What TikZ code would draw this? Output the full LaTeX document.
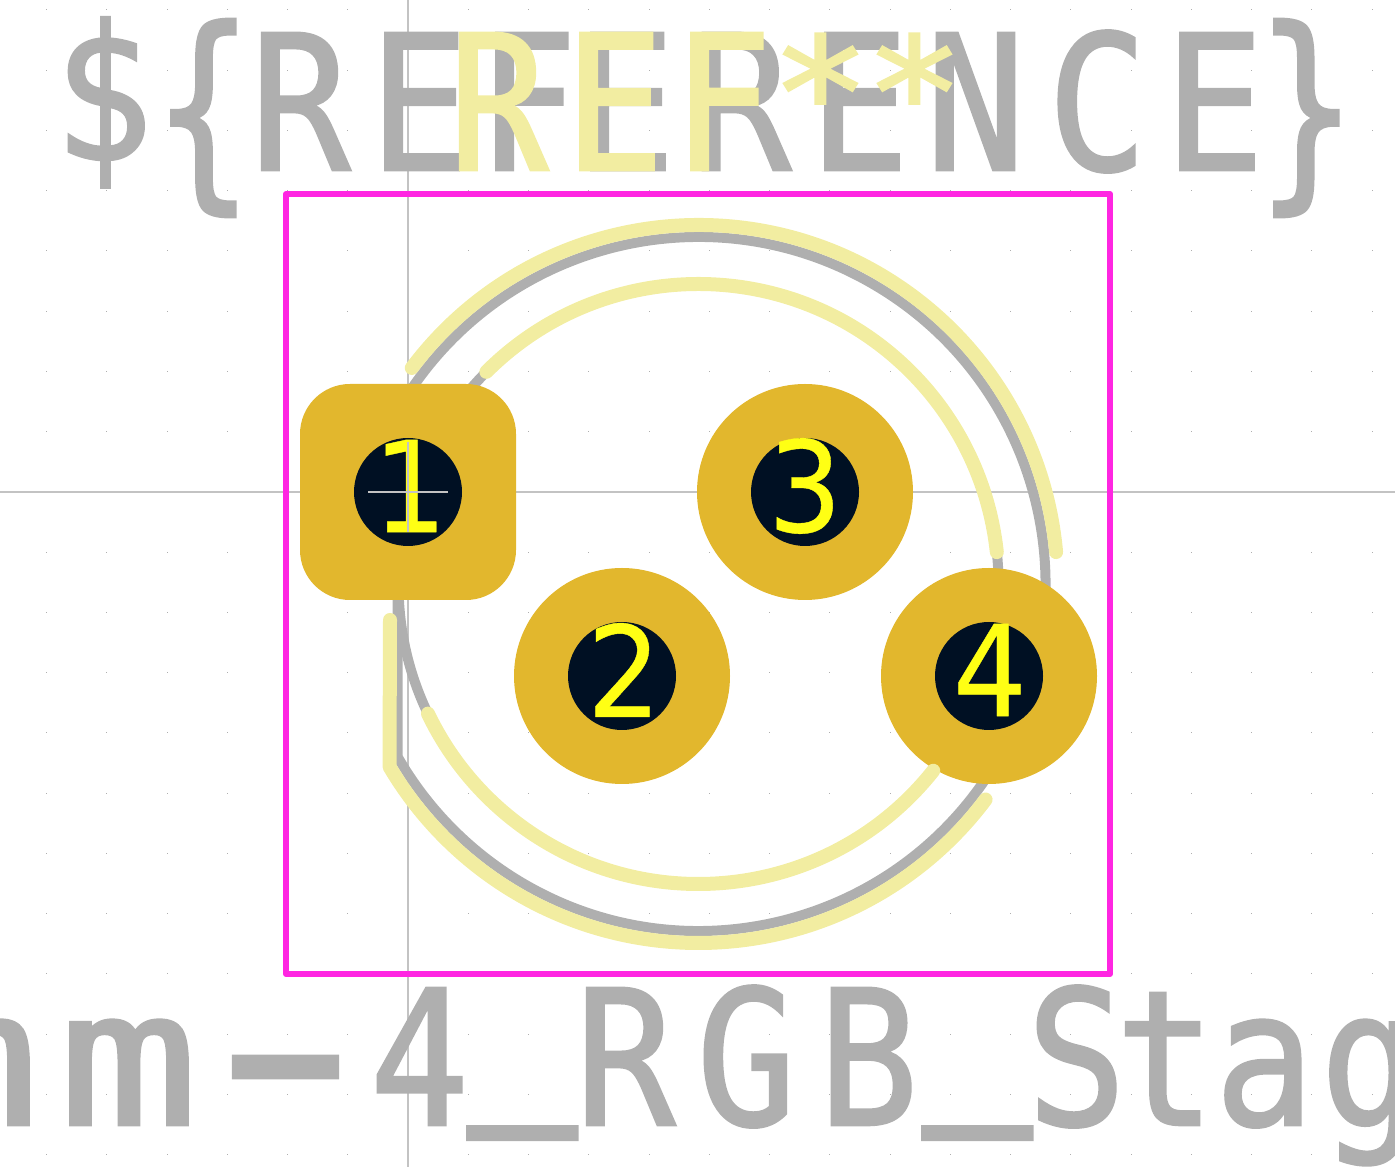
\documentclass[tikz,border=0pt]{standalone}
\usepackage{fontspec}
\usepackage{tikz}
\newfontfamily\strokefont[FakeBold=1.4,FakeStretch=0.88]{DejaVu Sans Mono}
\newfontfamily\padfont[FakeBold=0.3,FakeStretch=0.92]{DejaVu Sans}
\definecolor{fabgray}{RGB}{175,175,175}
\definecolor{silk}{RGB}{242,237,161}
\definecolor{court}{RGB}{255,38,226}
\definecolor{copper}{RGB}{226,183,45}
\definecolor{hole}{RGB}{0,16,35}
\definecolor{padnum}{RGB}{255,255,20}
\definecolor{axis}{RGB}{195,195,195}
% one glyph of a stroke text, centred at #1 cm from the left edge of the node
\newcommand{\gl}[2]{\makebox[0pt][l]{\hspace{#1cm}\makebox[0pt]{#2}}}
\tikzset{
  fabtext/.style={anchor=base west, inner sep=0, text=fabgray, font=\strokefont\fontsize{53.5}{60}\selectfont},
  silktext/.style={anchor=base west, inner sep=0, text=silk, font=\strokefont\fontsize{53.5}{60}\selectfont},
  fabline/.style={draw=fabgray, line width=0.1cm},
  silkline/.style={draw=silk, line width=0.14cm, line cap=round, line join=round},
  padround/.style={circle, fill=copper, minimum size=2.16cm, inner sep=0},
  padsquare/.style={rectangle, rounded corners=0.5cm, fill=copper, minimum size=2.16cm, inner sep=0},
  drill/.style={circle, fill=hole, minimum size=1.08cm, inner sep=0},
  padlabel/.style={inner sep=0, text=padnum, font=\padfont\fontsize{36}{40}\selectfont}
}

\begin{document}
\begin{tikzpicture}

\useasboundingbox (-4.08,-6.75) rectangle (9.87,4.92);
\clip (-4.08,-6.75) rectangle (9.87,4.92);

% grid dots
\foreach \i in {-6,...,16}
  \foreach \j in {-11,...,8}
    \fill[fabgray] (\i*0.6025-0.005,\j*0.6025-0.005) rectangle +(0.012,0.012);

% axes
\draw[axis, line width=0.012cm] (-4.08,0) -- (9.87,0);
\draw[axis, line width=0.012cm] (0,-6.75) -- (0,4.92);

% fab texts
\node[fabtext] (reftext) at (-4.08,3.22) {\gl{1.01}{\raisebox{0.1cm}{\$}}\gl{2.01}{\raisebox{-0.12cm}{\scalebox{1}[1.14]{\{}}}\gl{2.98}{R}\gl{4.17}{E}\gl{5.25}{F}\gl{6.23}{E}\gl{7.39}{R}\gl{8.57}{E}\gl{9.73}{N}\gl{10.95}{C}\gl{12.12}{E}\gl{13.04}{\raisebox{-0.12cm}{\scalebox{1}[1.14]{\}}}}};
\node[fabtext] (valtext) at (-4.08,-6.33) {\gl{-0.33}{\scalebox{1.4}[1]{m}}\gl{1.26}{\scalebox{1.4}[1]{m}}\gl{2.83}{\raisebox{-0.14cm}{\scalebox{2.4}[1.4]{-}}}\gl{4.17}{4}\gl{5.2}{\raisebox{0.57cm}{\scalebox{1.1}[1.6]{\_}}}\gl{6.23}{R}\gl{7.44}{G}\gl{8.66}{B}\gl{9.75}{\raisebox{0.57cm}{\scalebox{1.1}[1.6]{\_}}}\gl{10.74}{S}\gl{11.63}{t}\gl{12.62}{a}\gl{13.68}{g}};

% fab outline
\coordinate (ledc) at (2.905,-0.92);
\draw[fabline] ([shift=(150.15:3.47)]ledc) arc[start angle=150.15, end angle=-150.15, radius=3.47] -- cycle;
\draw[fabline] (ledc) circle (3.0);

% courtyard
\draw[court, line width=0.06cm, line join=round] (-1.22,2.98) rectangle (7.02,-4.82);

% pads
\node[padsquare] (pad1) at (0,0) {};
\node[padround] (pad2) at (2.14,-1.84) {};
\node[padround] (pad3) at (3.97,0) {};
\node[padround] (pad4) at (5.81,-1.84) {};
\node[drill] (drill1) at (pad1) {};
\node[drill] (drill2) at (pad2) {};
\node[drill] (drill3) at (pad3) {};
\node[drill] (drill4) at (pad4) {};

\node[padlabel] (num1) at (0.02,0.06) {1};
\node[padlabel] (num2) at (2.16,-1.78) {2};
\node[padlabel] (num3) at (3.97,0.06) {3};
\node[padlabel] (num4) at (5.82,-1.78) {4};

% origin mark
\draw[axis, line width=0.012cm] (-0.4,0) -- (0.4,0);
\draw[axis, line width=0.012cm] (0,-0.4) -- (0,0.5);

% silkscreen arcs
\draw[silkline] ([shift=(143:3.59)]ledc) arc[start angle=143, end angle=5.1, radius=3.59];
\draw[silkline] ([shift=(-36.9:3.59)]ledc) arc[start angle=-36.9, end angle=-149.4, radius=3.59] -- (-0.18,-1.28);
\draw[silkline] ([shift=(135:3.0)]ledc) arc[start angle=135, end angle=6.1, radius=3.0];
\draw[silkline] ([shift=(-38.5:3.0)]ledc) arc[start angle=-38.5, end angle=-154.4, radius=3.0];

% silk text
\node[silktext] (silkref) at (-4.08,3.22) {\gl{4.96}{R}\gl{6.12}{E}\gl{7.2}{F}\gl{8.18}{\raisebox{0.22cm}{\scalebox{1}[0.82]{*}}}\gl{9.12}{\raisebox{0.22cm}{\scalebox{1}[0.82]{*}}}};

\end{tikzpicture}
\end{document}
